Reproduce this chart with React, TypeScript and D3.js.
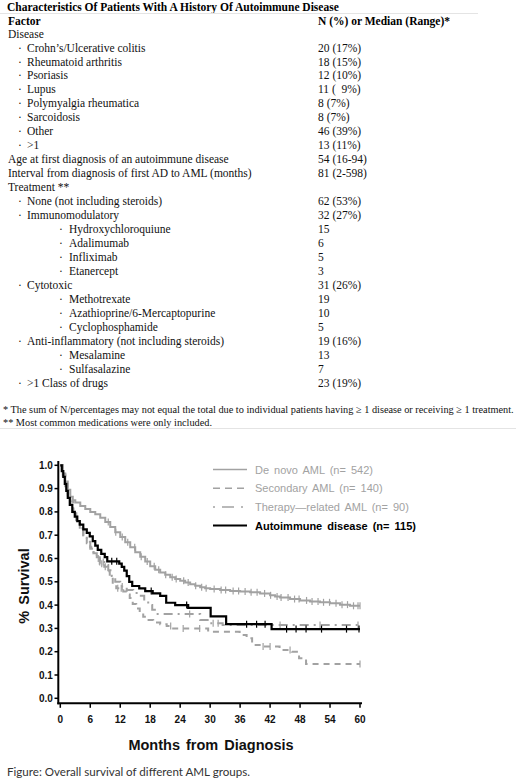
import React from 'react';
import * as d3 from 'd3';

// ---------- Table data ----------
const tableTitle = 'Characteristics Of Patients With A History Of Autoimmune Disease';
const tableHeaders = ['Factor', 'N (%) or Median (Range)*'];
const tableLabels = [
  'Disease', 'Crohn\u2019s/Ulcerative colitis', 'Rheumatoid arthritis', 'Psoriasis', 'Lupus',
  'Polymyalgia rheumatica', 'Sarcoidosis', 'Other', '>1',
  'Age at first diagnosis of an autoimmune disease',
  'Interval from diagnosis of first AD to AML (months)',
  'Treatment **', 'None (not including steroids)', 'Immunomodulatory',
  'Hydroxychloroquiune', 'Adalimumab', 'Infliximab', 'Etanercept',
  'Cytotoxic', 'Methotrexate', 'Azathioprine/6-Mercaptopurine', 'Cyclophosphamide',
  'Anti-inflammatory (not including steroids)', 'Mesalamine', 'Sulfasalazine', '>1 Class of drugs',
];
const tableValues = [
  '', '20 (17%)', '18 (15%)', '12 (10%)', '11 (  9%)', '8 (7%)', '8 (7%)', '46 (39%)', '13 (11%)',
  '54 (16-94)', '81 (2-598)', '', '62 (53%)', '32 (27%)', '15', '6', '5', '3',
  '31 (26%)', '19', '10', '5', '19 (16%)', '13', '7', '23 (19%)',
];
const tableLevels = [0, 1, 1, 1, 1, 1, 1, 1, 1, 0, 0, 0, 1, 1, 2, 2, 2, 2, 1, 2, 2, 2, 1, 2, 2, 1];
const footnotes = [
  '* The sum of N/percentages may not equal the total due to individual patients having \u2265 1 disease or receiving \u2265 1 treatment.',
  '** Most common medications were only included.',
];
const caption = 'Figure: Overall survival of different AML groups.';

// ---------- Chart data ----------
const xTicks = [0, 6, 12, 18, 24, 30, 36, 42, 48, 54, 60];
const yTicks = [0, 0.1, 0.2, 0.3, 0.4, 0.5, 0.6, 0.7, 0.8, 0.9, 1.0];
const seriesNames = ['De novo AML (n= 542)', 'Secondary AML (n= 140)', 'Therapy\u2014related AML (n= 90)', 'Autoimmune disease (n= 115)'];

const deNovoTimes = [0, 0.5, 1, 1.5, 2, 2.5, 3, 4, 5, 6, 7, 8, 9, 10, 11, 12, 13, 14, 15, 16, 17, 18, 19, 20, 21, 22, 23, 24, 25, 26, 27, 28, 29, 30, 32, 34, 36, 38, 40, 42, 43, 44, 46, 48, 50, 52, 54, 56, 58];
const deNovoSurv = [1, 0.965, 0.93, 0.895, 0.865, 0.85, 0.84, 0.825, 0.812, 0.8, 0.79, 0.775, 0.757, 0.735, 0.713, 0.692, 0.67, 0.648, 0.627, 0.607, 0.587, 0.567, 0.552, 0.54, 0.53, 0.52, 0.512, 0.504, 0.497, 0.49, 0.483, 0.477, 0.472, 0.469, 0.465, 0.461, 0.458, 0.455, 0.45, 0.442, 0.437, 0.433, 0.426, 0.42, 0.415, 0.412, 0.408, 0.402, 0.397];
const deNovoCensor = [9.6, 11.1, 12.4, 13.5, 14.9, 16.2, 17.4, 18.8, 19.7, 21.1, 22.4, 23.2, 24.7, 25.6, 27.1, 28.3, 29.2, 30.8, 32.2, 33.1, 34.6, 35.7, 37.0, 38.2, 39.4, 40.9, 42.1, 43.4, 44.2, 45.6, 46.9, 47.8, 49.3, 50.4, 51.6, 52.7, 53.9, 55.2, 56.4, 57.5, 58.7, 59.6, 60];

const secTimes = [0, 0.5, 1, 1.5, 2, 2.6, 3.2, 3.9, 4.6, 5.3, 6.0, 6.6, 7.3, 7.9, 8.8, 9.4, 9.9, 10.5, 11.2, 12.6, 13.3, 13.9, 14.5, 15.2, 15.9, 16.6, 17.3, 18.6, 20.0, 21.3, 22.6, 29.6, 35.9, 37.3, 38.4, 40.5, 43.9, 46.4, 47.8, 49.2];
const secSurv = [1, 0.955, 0.91, 0.87, 0.83, 0.79, 0.755, 0.72, 0.69, 0.665, 0.642, 0.622, 0.6, 0.578, 0.565, 0.545, 0.52, 0.49, 0.472, 0.458, 0.445, 0.43, 0.405, 0.385, 0.365, 0.35, 0.336, 0.325, 0.318, 0.31, 0.3, 0.286, 0.272, 0.258, 0.229, 0.222, 0.207, 0.2, 0.172, 0.147];
const secCensor = [7.6, 8.3, 9.0, 11.5, 12.2, 22.1, 24.6, 27.9, 40.6, 42.0, 46.0, 60];

const thTimes = [0, 0.5, 1, 1.5, 2, 2.6, 3.2, 3.9, 4.6, 5.3, 6.0, 6.6, 7.3, 7.9, 8.8, 9.6, 10.3, 11.0, 12.0, 13.3, 14.6, 15.9, 16.8, 17.6, 18.4, 19.2, 28.0, 29.5, 32.5];
const thSurv = [1, 0.96, 0.92, 0.88, 0.845, 0.8, 0.765, 0.73, 0.7, 0.672, 0.648, 0.628, 0.605, 0.585, 0.572, 0.55, 0.525, 0.5, 0.48, 0.465, 0.452, 0.44, 0.42, 0.4, 0.38, 0.362, 0.336, 0.322, 0.315];
const thCensor = [7.9, 8.6, 12.4, 25.9, 30.6, 31.6, 44.0, 52.0, 59.6];

const aiTimes = [0, 0.3, 0.6, 0.9, 1.2, 1.5, 1.9, 2.4, 2.9, 3.4, 3.9, 4.6, 5.3, 5.9, 6.5, 7.0, 7.5, 8.2, 8.9, 9.4, 11.8, 12.3, 12.8, 13.3, 13.8, 14.4, 15.8, 17.0, 18.5, 20.0, 21.2, 23.0, 25.6, 30.1, 33.2, 42.3];
const aiSurv = [1, 0.975, 0.95, 0.92, 0.89, 0.86, 0.83, 0.8, 0.78, 0.76, 0.745, 0.725, 0.71, 0.695, 0.675, 0.655, 0.637, 0.62, 0.606, 0.588, 0.578, 0.564, 0.548, 0.524, 0.5, 0.482, 0.472, 0.46, 0.45, 0.44, 0.41, 0.4, 0.388, 0.352, 0.318, 0.297];
const aiCensor = [10.3, 11.3, 18.2, 25.3, 37.3, 39.3, 41.0, 45.3, 47.2, 49.2, 52.3, 57.3, 59.8];

const GRAY = '#a2a2a2';

const x = d3.scaleLinear().domain([0, 60]).range([60.3, 360]);
const y = d3.scaleLinear().domain([0, 1]).range([698.3, 465.3]);

function stepPath(times: number[], surv: number[]) {
  const pts: [number, number][] = times.map((t, i) => [t, surv[i]]);
  pts.push([60, surv[surv.length - 1]]);
  return d3.line<[number, number]>().x(d => x(d[0])).y(d => y(d[1])).curve(d3.curveStepAfter)(pts) || '';
}
function survAt(times: number[], surv: number[], t: number) {
  const i = d3.bisectRight(times, t) - 1;
  return surv[Math.max(0, i)];
}

export default function App() {
  const serif = '"Liberation Serif", "Times New Roman", serif';
  const sans = '"Liberation Sans", Arial, Helvetica, sans-serif';
  const rowY = (i: number) => 37.6 + 13.96 * i;
  const series = [
    { times: deNovoTimes, surv: deNovoSurv, censor: deNovoCensor, color: GRAY, dash: undefined as string | undefined, w: 2 },
    { times: secTimes, surv: secSurv, censor: secCensor, color: GRAY, dash: '6,5', w: 2 },
    { times: thTimes, surv: thSurv, censor: thCensor, color: GRAY, dash: '9,5,2,5', w: 2 },
    { times: aiTimes, surv: aiSurv, censor: aiCensor, color: '#000', dash: undefined, w: 2.2 },
  ];
  const legendDash = [undefined, '7,5', '2,7,12,7', undefined];
  return (
    <div style={{ position: 'absolute', left: 0, top: 0 }}>
      <svg width={520} height={781} style={{ display: 'block', background: '#fff' }}>
        {/* Table */}
        <text x={7} y={10.6} fontFamily={serif} fontWeight="bold" fontSize={11.5} fill="#000">{tableTitle}</text>
        <line x1={0} x2={478} y1={13.5} y2={13.5} stroke="#e4e4e4" strokeWidth={1} />
        <text x={8} y={25} fontFamily={serif} fontWeight="bold" fontSize={11.5}>{tableHeaders[0]}</text>
        <text x={318} y={25} fontFamily={serif} fontWeight="bold" fontSize={11.5}>{tableHeaders[1]}</text>
        {tableLabels.map((lab, i) => {
          const lvl = tableLevels[i];
          const tx = lvl === 0 ? 8 : lvl === 1 ? 27 : 69;
          const bx = lvl === 1 ? 18 : 59;
          return (
            <g key={i} fontFamily={serif} fontSize={11.5} fill="#111">
              {lvl > 0 && <text x={bx} y={rowY(i)}>{'\u00b7'}</text>}
              <text x={tx} y={rowY(i)}>{lab}</text>
              {tableValues[i] && <text x={318} y={rowY(i)} style={{ whiteSpace: 'pre' }}>{tableValues[i]}</text>}
            </g>
          );
        })}
        <text x={3} y={412.5} fontFamily={serif} fontSize={10.3} fill="#111">{footnotes[0]}</text>
        <text x={3} y={425.5} fontFamily={serif} fontSize={10.3} fill="#111">{footnotes[1]}</text>
        <line x1={0} x2={516} y1={428.5} y2={428.5} stroke="#e4e4e4" strokeWidth={1} />

        {/* Chart curves */}
        {series.map((s, i) => (
          <g key={i}>
            <path d={stepPath(s.times, s.surv)} fill="none" stroke={s.color} strokeWidth={s.w} strokeDasharray={s.dash} />
            {s.censor.map((t, j) => {
              const cy = y(survAt(s.times, s.surv, t));
              return <line key={j} x1={x(t)} x2={x(t)} y1={cy - 3.5} y2={cy + 3.5} stroke={s.color} strokeWidth={1.2} />;
            })}
          </g>
        ))}

        {/* Axes */}
        <line x1={58.3} x2={58.3} y1={461} y2={704.3} stroke="#000" strokeWidth={2} />
        <line x1={57.3} x2={362} y1={703.3} y2={703.3} stroke="#000" strokeWidth={2} />
        {yTicks.map(t => (
          <g key={t}>
            <line x1={54.5} x2={58.3} y1={y(t)} y2={y(t)} stroke="#000" strokeWidth={1.5} />
            <text x={52.8} y={y(t) + 3.5} textAnchor="end" fontFamily={sans} fontWeight="bold" fontSize={10} fill="#111">{t.toFixed(1)}</text>
          </g>
        ))}
        {xTicks.map(t => (
          <g key={t}>
            <line x1={x(t)} x2={x(t)} y1={703.3} y2={707.8} stroke="#000" strokeWidth={1.5} />
            <text x={x(t)} y={722.6} textAnchor="middle" fontFamily={sans} fontWeight="bold" fontSize={10} fill="#111">{t}</text>
          </g>
        ))}
        <text x={211} y={750} textAnchor="middle" fontFamily={sans} fontWeight="bold" fontSize={14.5} wordSpacing={2} fill="#111">Months from Diagnosis</text>
        <text transform="translate(29,586) rotate(-90)" textAnchor="middle" fontFamily={sans} fontWeight="bold" fontSize={14.5} wordSpacing={2} fill="#111">% Survival</text>

        {/* Legend */}
        {seriesNames.map((name, i) => {
          const ly = 469.5 + 18.7 * i;
          const isAI = i === 3;
          return (
            <g key={name}>
              <line x1={213} x2={247} y1={ly} y2={ly} stroke={isAI ? '#000' : GRAY} strokeWidth={isAI ? 2 : 1.5} strokeDasharray={legendDash[i]} />
              <text x={255} y={ly + 4} fontFamily={sans} fontSize={11} fontWeight={isAI ? 'bold' : 'normal'} wordSpacing={2} fill={isAI ? '#000' : GRAY}>{name}</text>
            </g>
          );
        })}

        <text x={7} y={776} fontFamily='Lato, "Open Sans", sans-serif' fontSize={11.6} fill="#333">{caption}</text>
      </svg>
    </div>
  );
}
